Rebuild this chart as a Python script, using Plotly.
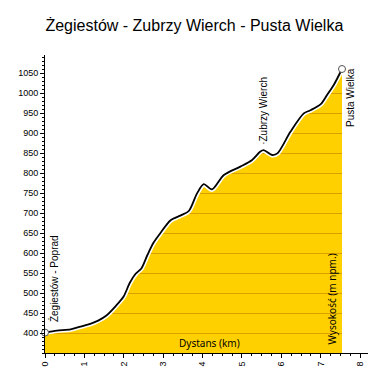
import plotly.graph_objects as go

# ---- data ----
dist_km = [0, 0.3, 0.65, 0.9, 1.15, 1.35, 1.55, 1.8, 2.0, 2.15, 2.3, 2.45, 2.6, 2.75,
           2.93, 3.19, 3.45, 3.65, 3.86, 4.03, 4.24, 4.54, 4.96, 5.25, 5.46, 5.55,
           5.77, 5.9, 6.23, 6.57, 6.74, 7.0, 7.16, 7.33, 7.54]
elev_m = [401, 406, 409, 416, 423, 431, 443, 468, 492, 525, 548, 562, 595, 625,
          650, 682, 694, 705, 749, 772, 759, 795, 816, 832, 853, 857,
          845, 849, 903, 949, 957, 972, 995, 1020, 1060]
place_names = ["Żegiestów - Poprad", "·Zubrzy Wierch", "Pusta Wielka"]
place_idx = [0, 25, len(dist_km) - 1]
title_text = "Żegiestów - Zubrzy Wierch - Pusta Wielka"
x_label = "Dystans (km)"
y_label = "Wysokość (m npm.)"
x_ticks = list(range(0, 9))
y_ticks = list(range(400, 1051, 50))

X_RANGE = [0, 8.2]
Y_RANGE = [350, 1095]

GOLD = "#FFD000"
GRID = "#DCA000"

fig = go.Figure()

# white area above the profile
fig.add_trace(go.Scatter(x=dist_km, y=[Y_RANGE[1]] * len(dist_km), mode="lines",
                         line=dict(width=0, color="white"), hoverinfo="skip",
                         showlegend=False))
fig.add_trace(go.Scatter(x=dist_km, y=elev_m, mode="lines", fill="tonexty",
                         fillcolor="white", line=dict(width=0, color="white",
                                                      shape="spline", smoothing=0.8),
                         hoverinfo="skip", showlegend=False))
# white area right of the end of the route
xe = dist_km[-1]
fig.add_trace(go.Scatter(x=[xe, X_RANGE[1], X_RANGE[1], xe, xe],
                         y=[Y_RANGE[0], Y_RANGE[0], Y_RANGE[1], Y_RANGE[1], Y_RANGE[0]],
                         mode="lines", fill="toself", fillcolor="white",
                         line=dict(width=0, color="white"), hoverinfo="skip",
                         showlegend=False))
# halo + profile line
fig.add_trace(go.Scatter(x=dist_km, y=elev_m, mode="lines",
                         line=dict(width=5, color="white", shape="spline", smoothing=0.8),
                         hoverinfo="skip", showlegend=False))
fig.add_trace(go.Scatter(x=dist_km, y=elev_m, mode="lines",
                         line=dict(width=1.8, color="black", shape="spline", smoothing=0.8),
                         hoverinfo="skip", showlegend=False))
# start / end markers
fig.add_trace(go.Scatter(x=[dist_km[0], dist_km[-1]], y=[elev_m[0], elev_m[-1]],
                         mode="markers", cliponaxis=False,
                         marker=dict(size=7, color="white", line=dict(color="#555", width=1)),
                         hoverinfo="skip", showlegend=False))

lab_font = dict(family="Liberation Sans, Arial", size=10, color="black")
# start label
fig.add_annotation(x=dist_km[place_idx[0]], y=elev_m[place_idx[0]], text=place_names[0],
                   textangle=-90, showarrow=False, xanchor="left", yanchor="bottom",
                   xshift=1, yshift=8, font=lab_font)
# summit label
fig.add_annotation(x=dist_km[place_idx[1]], y=elev_m[place_idx[1]], text=place_names[1],
                   textangle=-90, showarrow=False, xanchor="center", yanchor="bottom",
                   yshift=3, font=lab_font)
# end label
fig.add_annotation(x=dist_km[place_idx[2]], y=elev_m[place_idx[2]], text=place_names[2],
                   textangle=-90, showarrow=False, xanchor="left", yanchor="top",
                   xshift=1, yshift=3, font=lab_font)
# axis titles inside the plot
ax_font = dict(family="Noto Sans, DejaVu Sans", size=10, color="black")
fig.add_annotation(xref="paper", yref="paper", x=0.51, y=0, text=x_label,
                   showarrow=False, xanchor="center", yanchor="bottom", yshift=1,
                   font=ax_font)
fig.add_annotation(xref="x", yref="paper", x=xe, y=0, text=y_label, textangle=-90,
                   showarrow=False, xanchor="right", yanchor="bottom", yshift=6,
                   xshift=-2, font=ax_font)

# the page body adds an 8px offset, so the figure is 372px and margins are reduced
fig.update_layout(
    width=372, height=372,
    margin=dict(l=36.5, r=12, t=47, b=27, autoexpand=False),
    paper_bgcolor="white", plot_bgcolor=GOLD,
    title=dict(text=title_text, x=0.501, xref="container", xanchor="center",
               y=0.954, yref="container", yanchor="middle",
               font=dict(family="Liberation Sans, Arial", size=16, color="black")),
    font=dict(family="Liberation Sans, Arial", size=9, color="black"),
)
fig.update_xaxes(range=X_RANGE, tickvals=x_ticks, ticks="outside", ticklen=4,
                 tickwidth=1, tickcolor="black", tickangle=-90, showgrid=False,
                 zeroline=False, showline=True, linecolor="black", linewidth=1,
                 tickfont=dict(size=9), automargin=False,
                 minor=dict(dtick=0.25, ticks="outside", ticklen=2, tickcolor="black",
                            showgrid=False))
fig.update_yaxes(range=Y_RANGE, tickvals=y_ticks, ticks="outside", ticklen=4,
                 tickwidth=1, tickcolor="black", showgrid=True, gridcolor=GRID,
                 gridwidth=1, zeroline=False, showline=True, linecolor="black",
                 linewidth=1, tickfont=dict(size=9), automargin=False,
                 minor=dict(dtick=10, ticks="outside", ticklen=2, tickcolor="black",
                            showgrid=False))

fig.write_html("out.html")
